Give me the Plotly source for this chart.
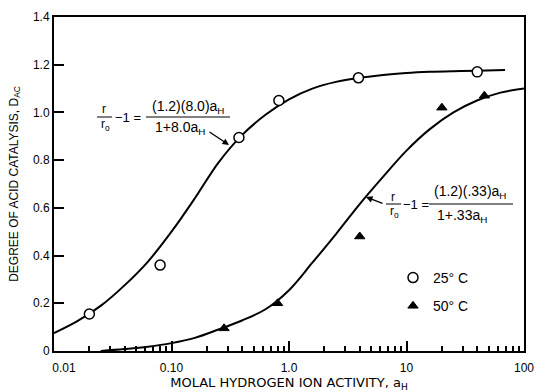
import plotly.graph_objects as go

# ---- data ----
a_25 = [0.02, 0.08, 0.375, 0.82, 3.9, 40]
d_25 = [0.155, 0.36, 0.895, 1.05, 1.145, 1.17]

a_50 = [0.28, 0.8, 4.0, 20, 46]
d_50 = [0.095, 0.20, 0.48, 1.02, 1.07]

curve1_a = [0.01, 0.0158, 0.0251, 0.0398, 0.0631, 0.1, 0.158, 0.251, 0.398, 0.631, 1.0, 1.58, 2.51, 3.98, 6.31, 10, 15.8, 25.1, 39.8, 69]
curve1_d = [0.075, 0.125, 0.19, 0.275, 0.375, 0.50, 0.64, 0.79, 0.905, 0.99, 1.055, 1.10, 1.128, 1.145, 1.157, 1.165, 1.17, 1.173, 1.175, 1.178]

curve2_a = [0.025, 0.0398, 0.0631, 0.1, 0.158, 0.251, 0.398, 0.631, 1.0, 1.58, 2.51, 3.98, 6.31, 10, 15.8, 25.1, 39.8, 63.1, 100]
curve2_d = [0.0, 0.008, 0.018, 0.033, 0.055, 0.09, 0.128, 0.175, 0.255, 0.37, 0.49, 0.615, 0.73, 0.84, 0.93, 1.0, 1.05, 1.083, 1.10]

x_tickvals = [0.01, 0.1, 1, 10, 100]
x_ticktext = ["\u00a0\u00a0\u00a0\u00a0\u00a0\u00a00.01", "0.10", "1.0", "10", "100"]
y_tickvals = [0, 0.2, 0.4, 0.6, 0.8, 1.0, 1.2, 1.4]
y_ticktext = ["0", "0.2", "0.4", "0.6", "0.8", "1.0", "1.2", "1.4"]

FONT = "Liberation Sans"
fig = go.Figure()

fig.add_trace(go.Scatter(x=curve1_a, y=curve1_d, mode="lines", line=dict(color="black", width=2, shape="spline", smoothing=1),
                         showlegend=False, hoverinfo="skip"))
fig.add_trace(go.Scatter(x=curve2_a, y=curve2_d, mode="lines", line=dict(color="black", width=2, shape="spline", smoothing=1),
                         showlegend=False, hoverinfo="skip"))
fig.add_trace(go.Scatter(x=a_25, y=d_25, mode="markers", name="25° C", legendgroup="g1",
                         marker=dict(symbol="circle", size=10, color="white", line=dict(color="black", width=1.5))))
fig.add_trace(go.Scatter(x=a_50, y=d_50, mode="markers", name="50° C", legendgroup="g2",
                         marker=dict(symbol="triangle-up", size=9, color="black", line=dict(color="black", width=1))))

L, R, T, B = 54, 524, 17, 351
W, H = R - L, B - T
def px(x):
    return (x - L) / W
def py(y):
    return (B - y) / H

ann = []
shapes = []
def txt(x, y, s, size=11, xanchor="center"):
    ann.append(dict(x=px(x), y=py(y), xref="paper", yref="paper", text=s, showarrow=False,
                    xanchor=xanchor, yanchor="middle", font=dict(family=FONT, size=size, color="black")))
def hline(x0, x1, y, w=1):
    shapes.append(dict(type="line", xref="paper", yref="paper", x0=px(x0), x1=px(x1), y0=py(y), y1=py(y),
                       line=dict(color="black", width=w)))

# formula 1
txt(104, 109, "r", 12)
txt(105, 125, "r<sub>o</sub>", 12)
hline(97, 112, 117)
txt(113, 117, "−1 =", 13, "left")
txt(188, 107, "(1.2)(8.0)a<sub>H</sub>", 14)
hline(146, 230, 117)
txt(180, 128, "1+8.0a<sub>H</sub>", 14)
ann.append(dict(x=px(229), y=py(145), xref="paper", yref="paper", ax=-21, ay=-14, text="",
                showarrow=True, arrowhead=2, arrowsize=1, arrowwidth=1.3, arrowcolor="black"))

# formula 2
txt(393, 197, "r", 12)
txt(394, 212, "r<sub>o</sub>", 12)
hline(386, 401, 204)
txt(401, 204, "−1 =", 13, "left")
txt(470, 192, "(1.2)(.33)a<sub>H</sub>", 14)
hline(429, 513, 204)
txt(462, 216, "1+.33a<sub>H</sub>", 14)
ann.append(dict(x=px(366), y=py(197), xref="paper", yref="paper", ax=18, ay=7, text="",
                showarrow=True, arrowhead=2, arrowsize=1, arrowwidth=1.3, arrowcolor="black"))

fig.update_layout(
    width=537, height=392,
    margin=dict(l=L, r=537 - R, t=T, b=392 - B),
    paper_bgcolor="white", plot_bgcolor="white",
    font=dict(family=FONT, size=12, color="black"),
    showlegend=True,
    legend=dict(x=px(393), y=py(262), xanchor="left", yanchor="top", bgcolor="rgba(0,0,0,0)",
                font=dict(family=FONT, size=14), tracegroupgap=7, itemwidth=30),
    annotations=ann, shapes=shapes,
)
minor_vals = [m * 10 ** e for e in range(-2, 2) for m in range(2, 10)]
fig.update_xaxes(type="log", range=[-2, 2], tickvals=x_tickvals, ticktext=x_ticktext, automargin=False,
                 ticks="inside", ticklen=10, tickwidth=1.5, tickcolor="black",
                 minor=dict(tickvals=minor_vals, ticks="inside", ticklen=5, tickcolor="black", showgrid=False),
                 showline=True, linecolor="black", linewidth=2, mirror=True, showgrid=False, zeroline=False,
                 tickfont=dict(family=FONT, size=12), ticklabelstandoff=5,
                 title=dict(text="MOLAL HYDROGEN ION ACTIVITY, a<sub>H</sub>", font=dict(family="DejaVu Sans", size=13), standoff=3))
fig.update_yaxes(range=[0, 1.4], tickvals=y_tickvals, ticktext=y_ticktext, automargin=False,
                 ticks="inside", ticklen=10, tickwidth=1.5, tickcolor="black",
                 showline=True, linecolor="black", linewidth=2, mirror=True, showgrid=False, zeroline=False,
                 tickfont=dict(family=FONT, size=12),
                 title=dict(text="DEGREE OF ACID CATALYSIS, D<sub>AC</sub>", font=dict(family=FONT, size=12), standoff=12))

fig.write_html("out.html")
